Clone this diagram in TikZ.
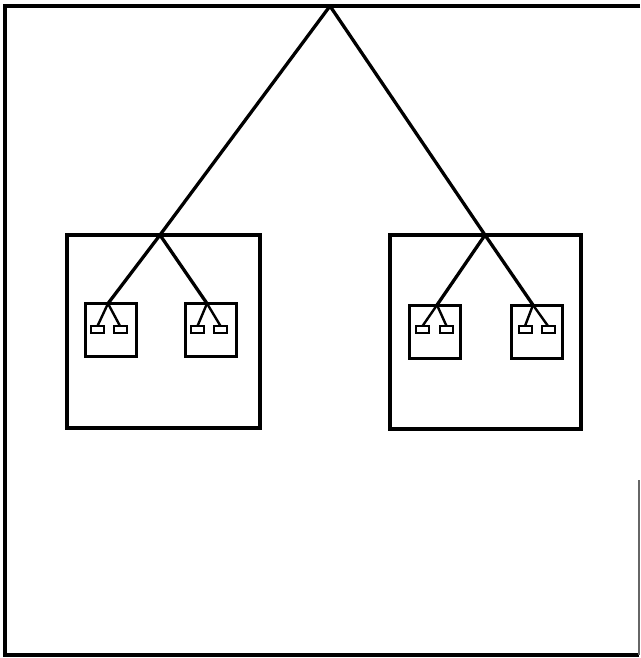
\documentclass[tikz,border=0pt]{standalone}
\begin{document}
\begin{tikzpicture}[x=1pt,y=-1pt,
  wire/.style={line width=3.3pt, line cap=round},
  bigbox/.style={draw, line width=3.2pt, inner sep=0pt, outer sep=0pt},
  smallbox/.style={draw, line width=3pt, inner sep=0pt, outer sep=0pt, minimum width=51pt, minimum height=53pt},
  pad/.style={draw, line width=2pt, inner sep=0pt, outer sep=0pt, minimum width=13pt, minimum height=7pt}]
\useasboundingbox (0,0) rectangle (640,658);
% outer frame
\draw[line width=3.4pt] (640,6) -- (5,6) -- (5,655) -- (639,655);
\coordinate (edgeTop) at (639,480);
\coordinate (edgeBot) at (639,655);
\draw[line width=1.2pt, black!60] (edgeTop) -- (edgeBot);
\coordinate (apex) at (330,6);
% big boxes
\node[bigbox, minimum width=193pt, minimum height=193pt] (L) at (163.5,331.5) {};
\node[bigbox, minimum width=191pt, minimum height=194pt] (R) at (485.5,332) {};
\coordinate (Lj) at (160,235);
\coordinate (Rj) at (485,235);
\draw[wire] (apex) -- (Lj);
\draw[wire] (apex) -- (Rj);
% small boxes
\node[smallbox] (L1) at (110.5,330) {};
\node[smallbox] (L2) at (211,330) {};
\node[smallbox] (R1) at (435,331.5) {};
\node[smallbox] (R2) at (536.5,331.5) {};
\coordinate (L1j) at (108,303.5);
\coordinate (L2j) at (207,303.5);
\coordinate (R1j) at (437,305);
\coordinate (R2j) at (533,305);
\draw[wire] (Lj) -- (L1j);
\draw[wire] (Lj) -- (L2j);
\draw[wire] (Rj) -- (R1j);
\draw[wire] (Rj) -- (R2j);
% pads
\node[pad] (L1a) at (97.5,329.5) {};
\node[pad] (L1b) at (120,329.5) {};
\node[pad] (L2a) at (197.5,329.5) {};
\node[pad] (L2b) at (220.5,329.5) {};
\node[pad] (R1a) at (422.5,329.5) {};
\node[pad] (R1b) at (446.5,329.5) {};
\node[pad] (R2a) at (525,329.5) {};
\node[pad] (R2b) at (548,329.5) {};
\foreach \j/\a/\b in {L1j/L1a/L1b, L2j/L2a/L2b, R1j/R1a/R1b, R2j/R2a/R2b}{
  \draw[line width=2.4pt] (\j) -- (\a.north);
  \draw[line width=2.4pt] (\j) -- (\b.north);
}
\end{tikzpicture}
\end{document}
